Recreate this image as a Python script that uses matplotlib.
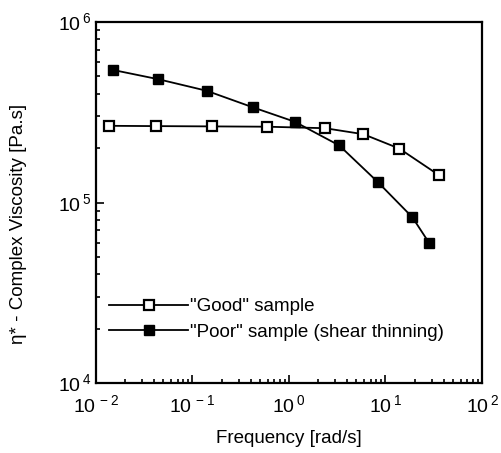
import matplotlib
matplotlib.use("Agg")
import matplotlib.pyplot as plt
from matplotlib.ticker import LogLocator, NullFormatter, FixedLocator

plt.rcParams['font.family'] = ['Liberation Sans', 'DejaVu Sans']
plt.rcParams['mathtext.fontset'] = 'custom'
plt.rcParams['mathtext.rm'] = 'Liberation Sans'

good_freq = [0.0136, 0.0419, 0.16, 0.587, 2.36, 5.9, 13.9, 35.6]
good_visc = [2.66e5, 2.65e5, 2.64e5, 2.63e5, 2.58e5, 2.39e5, 1.99e5, 1.42e5]
poor_freq = [0.0151, 0.0442, 0.140, 0.427, 1.15, 3.32, 8.3, 19.0, 28.2]
poor_visc = [5.42e5, 4.82e5, 4.16e5, 3.36e5, 2.80e5, 2.07e5, 1.30e5, 8.28e4, 5.99e4]

xticks = [1e-2, 1e-1, 1e0, 1e1, 1e2]
xtick_labels = [r'$10^{\,-2}$', r'$10^{\,-1}$', r'$10^{\,0}$', r'$10^{\,1}$', r'$10^{\,2}$']
yticks = [1e4, 1e5, 1e6]
ytick_labels = [r'$10^{\,4}$', r'$10^{\,5}$', r'$10^{\,6}$']

fig = plt.figure(figsize=(5.02, 4.53), dpi=100)
ax = fig.add_axes([96/502, 1 - 383/453, (482-96)/502, (383-22)/453])

ax.plot(good_freq, good_visc, color='black', lw=1.3, marker='s', ms=7,
        mfc='white', mec='black', mew=1.6, label='"Good" sample')
ax.plot(poor_freq, poor_visc, color='black', lw=1.3, marker='s', ms=7,
        mfc='black', mec='black', label='"Poor" sample (shear thinning)')

ax.set_xscale('log')
ax.set_yscale('log')
ax.set_xlim(1e-2, 1e2)
ax.set_ylim(1e4, 1e6)
ax.xaxis.set_major_locator(FixedLocator(xticks))
ax.set_xticklabels(xtick_labels)
ax.yaxis.set_major_locator(FixedLocator(yticks))
ax.set_yticklabels(ytick_labels)
ax.xaxis.set_minor_locator(LogLocator(base=10, subs=range(2, 10)))
ax.yaxis.set_minor_locator(LogLocator(base=10, subs=range(2, 10)))
ax.xaxis.set_minor_formatter(NullFormatter())
ax.yaxis.set_minor_formatter(NullFormatter())
ax.tick_params(which='both', direction='in', top=False, right=False, width=1.2)
ax.tick_params(which='major', length=6, labelsize=14)
ax.tick_params(which='minor', length=3)
ax.tick_params(axis='x', pad=8)
for s in ax.spines.values():
    s.set_linewidth(1.6)

ax.set_xlabel('Frequency [rad/s]', fontsize=13.5)
ax.xaxis.set_label_coords(0.5, -0.13)
ax.set_ylabel('η* - Complex Viscosity [Pa.s]', fontsize=13.5)
ax.yaxis.set_label_coords(-0.18, 0.44)

ax.legend(loc='lower left', bbox_to_anchor=(0.0, 0.08), frameon=False,
          fontsize=13.5, handlelength=4.2, handletextpad=0.1, labelspacing=0.45,
          borderaxespad=0.3)

fig.savefig('out.png', dpi=100)
